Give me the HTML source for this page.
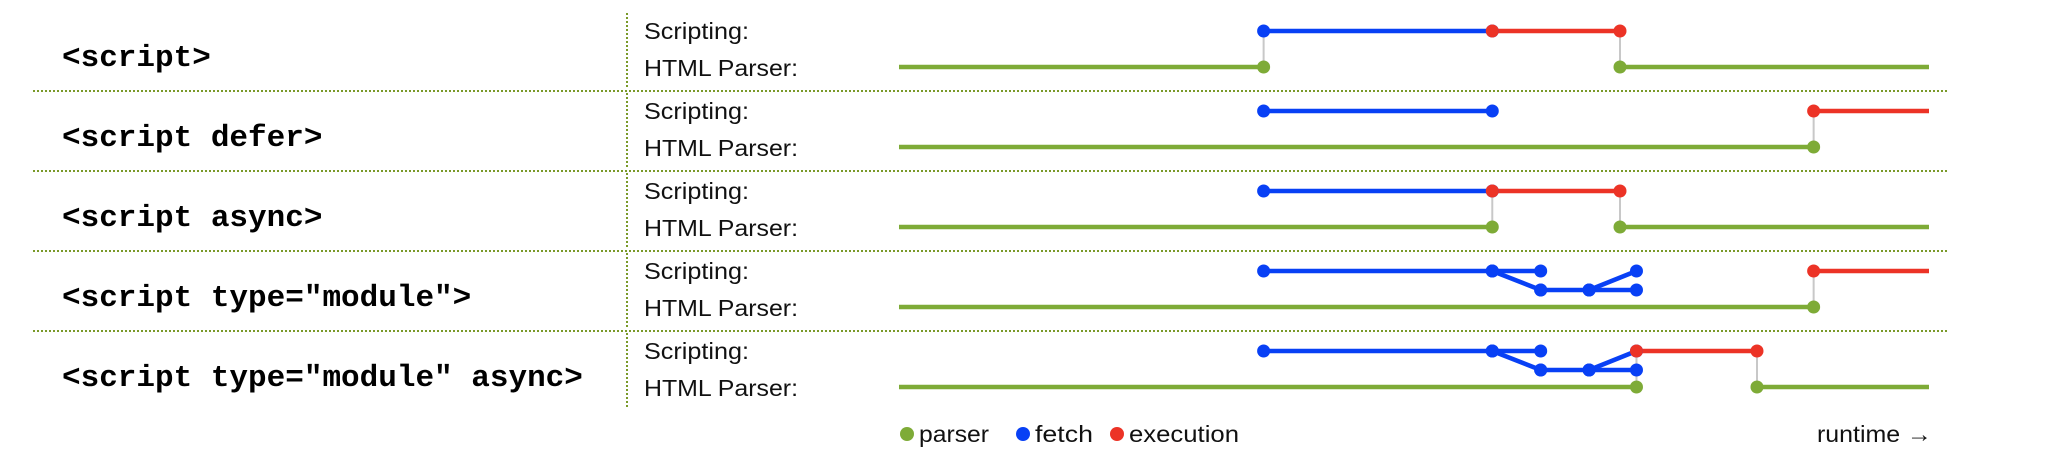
<!DOCTYPE html>
<html><head><meta charset="utf-8"><style>
html,body{margin:0;padding:0;background:#fff;}
svg{display:block;}
.lbl{font-family:"Liberation Mono",monospace;font-weight:bold;font-size:31px;fill:#000;}
.lane{font-family:"Liberation Sans",sans-serif;font-size:23px;fill:#111;}
.leg{font-family:"Liberation Sans",sans-serif;font-size:23px;fill:#111;}
</style></head><body>
<svg id="chart" width="2058" height="472" viewBox="0 0 2058 472" xmlns="http://www.w3.org/2000/svg"></svg>
<script>
const rowLabels = ['<script>', '<script defer>', '<script async>', '<script type="module">', '<script type="module" async>'];
// parser: [row, t0, t1]; fetch: [row, lane0, t0, lane1, t1]; exec: [row, t0, t1]
const parserSegs = [[0,0,35.4],[0,70,100],[1,0,88.8],[2,0,57.6],[2,70,100],[3,0,88.8],[4,0,71.6],[4,83.3,100]];
const fetchSegs = [
 [0,0,35.4,0,57.6],[1,0,35.4,0,57.6],[2,0,35.4,0,57.6],
 [3,0,35.4,0,57.6],[3,0,57.6,0,62.3],[3,0,57.6,1,62.3],[3,1,62.3,1,67],[3,1,67,1,71.6],[3,1,67,0,71.6],
 [4,0,35.4,0,57.6],[4,0,57.6,0,62.3],[4,0,57.6,1,62.3],[4,1,62.3,1,67],[4,1,67,1,71.6],[4,1,67,0,71.6]
];
const execSegs = [[0,57.6,70],[1,88.8,100],[2,57.6,70],[3,88.8,100],[4,71.6,83.3]];
const connectors = [[0,35.4],[0,70],[1,88.8],[2,57.6],[2,70],[3,88.8],[4,71.6],[4,83.3]];

const NS='http://www.w3.org/2000/svg';
const svg=document.getElementById('chart');
const G='#7eab37', B='#0840f5', R='#ec3326';
const xs=t=>899+t*10.3;
function mk(tag,attrs){const e=document.createElementNS(NS,tag);for(const k in attrs)e.setAttribute(k,attrs[k]);svg.appendChild(e);return e;}

for(let i=0;i<4;i++){
  const l=mk('line',{x1:33,x2:1948,y1:91+i*80,y2:91+i*80,stroke:'#7a9a2a','stroke-width':2,'stroke-dasharray':'2 2'});
  
  
}
rowLabels.forEach((lab,i)=>{
  const top=11+i*80;
  const v=mk('line',{x1:627,x2:627,y1:top+2,y2:top+77,stroke:'#7a9a2a','stroke-width':2,'stroke-dasharray':'2 2'});
  
  
  const t=mk('text',{x:62,y:top+55,class:'lbl'});t.textContent=lab;
  
  
  const s=mk('text',{x:644,y:top+28,class:'lane',textLength:105,lengthAdjust:'spacingAndGlyphs'});s.textContent='Scripting:';
  
  
  const p=mk('text',{x:644,y:top+65,class:'lane',textLength:154,lengthAdjust:'spacingAndGlyphs'});p.textContent='HTML Parser:';
  
  
});
const rowY=(i,l)=>11+i*80+[20,39,56][l];
connectors.forEach(c=>{
  const l=mk('line',{x1:xs(c[1]),x2:xs(c[1]),y1:rowY(c[0],0),y2:rowY(c[0],2),stroke:'#c8c8c8','stroke-width':2});
  
  
});
const dots=[];
function seg(i,l0,t0,l1,t1,col,name){
  const l=mk('line',{x1:xs(t0),y1:rowY(i,l0),x2:xs(t1),y2:rowY(i,l1),stroke:col,'stroke-width':4.5});
  
  
  dots.push([i,l0,t0,col],[i,l1,t1,col]);
}
parserSegs.forEach(s=>{seg(s[0],2,s[1],2,s[2],G,'parser-segment');});
fetchSegs.forEach(s=>{seg(s[0],s[1],s[2],s[3],s[4],B,'fetch-segment');});
execSegs.forEach(s=>{seg(s[0],0,s[1],0,s[2],R,'execution-segment');});
dots.forEach(d=>{
  if(d[2]===0||d[2]===100)return;
  const c=mk('circle',{cx:xs(d[2]),cy:rowY(d[0],d[1]),r:6.5,fill:d[3]});
  
  
});
const legend=[['parser',G,907,70],['fetch',B,1023,58],['execution',R,1117,110]];
legend.forEach(e=>{
  const c=mk('circle',{cx:e[2],cy:434,r:7,fill:e[1]});
  
  
  const t=mk('text',{x:e[2]+12,y:442,class:'leg',textLength:e[3],lengthAdjust:'spacingAndGlyphs'});t.textContent=e[0];
  
  
});
const rt=mk('text',{x:1817,y:442,class:'leg',textLength:115,lengthAdjust:'spacingAndGlyphs'});rt.textContent='runtime →';


</script>
</body></html>
